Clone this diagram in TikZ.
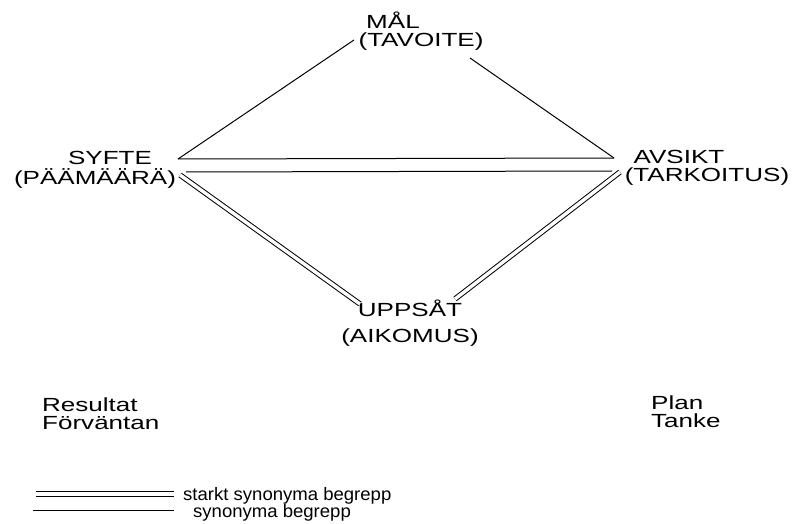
\documentclass[tikz,border=0pt]{standalone}
\usepackage{fontspec}
\setmainfont{Liberation Sans}
\newfontfamily\labfont[FakeStretch=1.37]{Liberation Sans}
\newfontfamily\legfont[FakeStretch=1.03]{Liberation Sans}
\begin{document}
\begin{tikzpicture}[x=1pt,y=-1pt,
  lab/.style={inner sep=0pt, font=\labfont\fontsize{19}{22}\selectfont},
  leg/.style={inner sep=0pt, anchor=base west, font=\legfont\fontsize{18}{21}\selectfont},
  syn/.style={line width=1pt},
  strong/.style={line width=1pt, double, double distance=3.4pt}]
\useasboundingbox (0,0) rectangle (793,524);
% labels
\node[lab, anchor=base] (mal) at (393,29) {MÅL};
\node[lab, anchor=base] (tavoite) at (421,47) {(TAVOITE)};
\node[lab, anchor=base] (syfte) at (110,165) {SYFTE};
\node[lab, anchor=base] (paamaara) at (95,185) {(PÄÄMÄÄRÄ)};
\node[lab, anchor=base] (avsikt) at (679,164) {AVSIKT};
\node[lab, anchor=base] (tarkoitus) at (707,182) {(TARKOITUS)};
\node[lab, anchor=base] (uppsat) at (410,316) {UPPSÅT};
\node[lab, anchor=base] (aikomus) at (410,342) {(AIKOMUS)};
\node[lab, anchor=base west] (resultat) at (42,411) {Resultat};
\node[lab, anchor=base west] (forvantan) at (42,429) {Förväntan};
\node[lab, anchor=base west] (plan) at (651,409) {Plan};
\node[lab, anchor=base west] (tanke) at (651,427) {Tanke};
% connector end points
\coordinate (m1) at (354,40);
\coordinate (m2) at (470,58);
\coordinate (s1) at (178,159);
\coordinate (s2) at (186,172);
\coordinate (s3) at (180,175);
\coordinate (a1) at (614,158);
\coordinate (a2) at (612,171);
\coordinate (a3) at (620,172);
\coordinate (u1) at (360,304);
\coordinate (u2) at (455,299);
% connectors
\draw[syn] (m1) -- (s1);
\draw[syn] (m2) -- (a1);
\draw[syn] (s1) -- (a1);
\draw[syn] (s2) -- (a2);
\draw[strong] (s3) -- (u1);
\draw[strong] (a3) -- (u2);
% legend
\coordinate (l1) at (36,494);
\coordinate (l2) at (174,494);
\coordinate (l3) at (33,510);
\coordinate (l4) at (174,510);
\draw[strong] (l1) -- (l2);
\draw[syn] (l3) -- (l4);
\node[leg] (t1) at (183,500) {starkt synonyma begrepp};
\node[leg] (t2) at (193,517) {synonyma begrepp};
\end{tikzpicture}
\end{document}
